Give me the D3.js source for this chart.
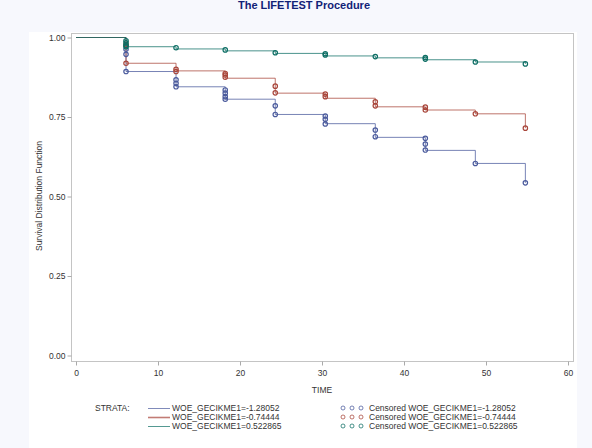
<!DOCTYPE html>
<html lang="en">
<head>
    <meta charset="UTF-8">
    <title>The LIFETEST Procedure</title>
    <script src="https://d3js.org/d3.v7.min.js"></script>
</head>
<style>
    body {
        margin: 0;
        background: #f7f8fd;
        font-family: Arial, 'Liberation Sans', sans-serif;
    }
    .frame {
        fill: none;
        stroke: #c4c4c4;
    }
    .tick text {
        fill: #333;
        font-size: 8.5px;
    }
    .tick line {
        stroke: #aaa;
    }
    .curve {
        fill: none;
        stroke-width: 1;
        stroke-opacity: 0.75;
    }
</style>
<body>
    <script>
        // step times (months) shared by all strata
        const times = [0, 6.1, 12.2, 18.2, 24.3, 30.4, 36.5, 42.6, 48.7, 54.8];

        // survival estimates after each time, one array per stratum
        const survLow  = [1, 0.893, 0.845, 0.806, 0.758, 0.729, 0.686, 0.645, 0.604, 0.543];
        const survMid  = [1, 0.919, 0.895, 0.872, 0.825, 0.809, 0.782, 0.772, 0.760, 0.715];
        const survHigh = [1, 0.971, 0.964, 0.958, 0.950, 0.942, 0.936, 0.930, 0.923, 0.917];

        // censored observations [time, survival]
        const censLow = [[6.1, 0.963], [6.1, 0.947], [6.1, 0.893], [12.2, 0.867], [12.2, 0.856], [12.2, 0.845],
            [18.2, 0.835], [18.2, 0.825], [18.2, 0.814], [18.2, 0.806], [24.3, 0.785], [24.3, 0.758],
            [30.4, 0.753], [30.4, 0.743], [30.4, 0.728], [36.5, 0.709], [36.5, 0.688],
            [42.6, 0.683], [42.6, 0.665], [42.6, 0.646], [48.7, 0.604], [54.8, 0.543]];
        const censMid = [[6.1, 0.977], [6.1, 0.919], [12.2, 0.900], [12.2, 0.893], [18.2, 0.887], [18.2, 0.882],
            [18.2, 0.875], [24.3, 0.847], [24.3, 0.826], [30.4, 0.822], [30.4, 0.814], [36.5, 0.798],
            [36.5, 0.785], [42.6, 0.781], [42.6, 0.772], [48.7, 0.760], [54.8, 0.715]];
        const censHigh = [[6.1, 0.990], [6.1, 0.983], [6.1, 0.975], [6.1, 0.971], [12.2, 0.968], [18.2, 0.961],
            [24.3, 0.952], [30.4, 0.949], [30.4, 0.945], [36.5, 0.940], [42.6, 0.937], [42.6, 0.932],
            [48.7, 0.923], [54.8, 0.917]];

        const strataNames = ['WOE_GECIKME1=-1.28052', 'WOE_GECIKME1=-0.74444', 'WOE_GECIKME1=0.522865'];
        const xTicks = [0, 10, 20, 30, 40, 50, 60];
        const yTicks = [0, 0.25, 0.5, 0.75, 1];

        const colors = ['#4a5a9c', '#a8453a', '#0d6e64'];
        const strata = [
            { surv: survLow, cens: censLow },
            { surv: survMid, cens: censMid },
            { surv: survHigh, cens: censHigh }
        ];

        const width = 592, height = 448;
        const svg = d3.select('body').append('svg')
            .attr('width', width)
            .attr('height', height)
            .style('display', 'block');

        // white panel behind the graph
        svg.append('rect')
            .attr('x', 29).attr('y', 32)
            .attr('width', 548).attr('height', height - 32)
            .attr('fill', '#fff');

        // title
        svg.append('text')
            .attr('x', 304).attr('y', 9)
            .attr('text-anchor', 'middle')
            .attr('fill', '#112277')
            .style('font-size', '11px')
            .style('font-weight', 'bold')
            .text('The LIFETEST Procedure');

        const x = d3.scaleLinear().domain([0, 60]).range([76, 568]);
        const y = d3.scaleLinear().domain([0, 1]).range([355.5, 37.5]);

        // plot frame
        const frame = { left: 71, right: 573, top: 33, bottom: 361 };
        svg.append('rect')
            .attr('class', 'frame')
            .attr('x', frame.left + 0.5).attr('y', frame.top + 0.5)
            .attr('width', frame.right - frame.left).attr('height', frame.bottom - frame.top);

        // axes
        const xAxis = svg.append('g')
            .attr('transform', `translate(0, ${frame.bottom + 0.5})`)
            .call(d3.axisBottom(x).tickValues(xTicks).tickFormat(d3.format('d')).tickSize(4).tickPadding(4));
        const yAxis = svg.append('g')
            .attr('transform', `translate(${frame.left + 0.5}, 0)`)
            .call(d3.axisLeft(y).tickValues(yTicks).tickFormat(d3.format('.2f')).tickSize(4).tickPadding(2));
        xAxis.select('.domain').remove();
        yAxis.select('.domain').remove();

        // axis labels
        svg.append('text')
            .attr('x', 322).attr('y', 393)
            .attr('text-anchor', 'middle')
            .attr('fill', '#333')
            .style('font-size', '8.5px')
            .text('TIME');
        svg.append('text')
            .attr('transform', 'translate(42, 196) rotate(-90)')
            .attr('text-anchor', 'middle')
            .attr('fill', '#333')
            .style('font-size', '8.5px')
            .text('Survival Distribution Function');

        // survival step curves
        const line = d3.line()
            .x(d => x(d[0]))
            .y(d => y(d[1]))
            .curve(d3.curveStepAfter);

        strata.forEach((s, i) => {
            const pts = times.map((t, j) => [t, s.surv[j]]);
            svg.append('path')
                .attr('class', 'curve')
                .attr('d', line(pts))
                .attr('stroke', colors[i]);
        });

        // censored markers
        strata.forEach((s, i) => {
            svg.append('g').selectAll('circle')
                .data(s.cens)
                .join('circle')
                .attr('cx', d => x(d[0]))
                .attr('cy', d => y(d[1]))
                .attr('r', 2.2)
                .attr('fill', 'none')
                .attr('stroke', colors[i])
                .attr('stroke-width', 1.2);
        });

        // legend
        const legend = svg.append('g').style('font-size', '8.5px').attr('fill', '#333');
        legend.append('text')
            .attr('x', 95).attr('y', 411)
            .text('STRATA:');

        strataNames.forEach((name, i) => {
            const ly = 408 + i * 9;
            legend.append('line')
                .attr('x1', 148).attr('x2', 170)
                .attr('y1', ly + 0.5).attr('y2', ly + 0.5)
                .attr('stroke', colors[i])
                .attr('stroke-opacity', 0.7)
                .attr('stroke-width', i === 1 ? 1.6 : 1);
            legend.append('text')
                .attr('x', 172).attr('y', ly + 3)
                .text(name);

            [343, 352, 361].forEach(cx => {
                legend.append('circle')
                    .attr('cx', cx).attr('cy', ly)
                    .attr('r', 2)
                    .attr('fill', 'none')
                    .attr('stroke', colors[i])
                    .attr('stroke-opacity', 0.75)
                    .attr('stroke-width', 1);
            });
            legend.append('text')
                .attr('x', 369).attr('y', ly + 3)
                .text('Censored ' + name);
        });
    </script>
</body>
</html>
